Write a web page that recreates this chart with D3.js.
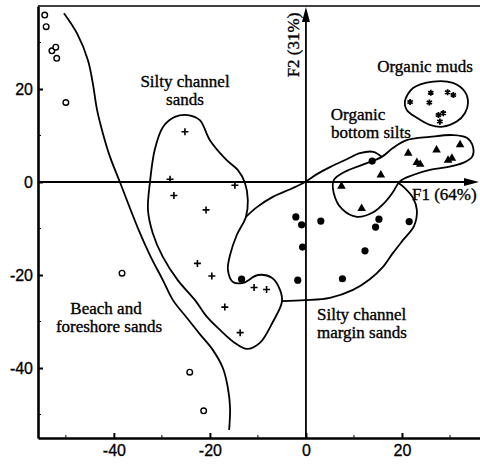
<!DOCTYPE html>
<html>
<head>
<meta charset="utf-8">
<script src="https://cdn.jsdelivr.net/npm/d3@7"></script>
<style>
  body { margin: 0; background: #fff; }
  svg { display: block; }
  .lbl { font-family: "Liberation Serif", "Times New Roman", serif; font-size: 17px; fill: #000;
         stroke: #000; stroke-width: 0.35px; }
  .tick text { font-family: "Liberation Sans", Arial, sans-serif; font-size: 16px; fill: #000;
               stroke: #000; stroke-width: 0.3px; }
</style>
</head>
<body>
<div id="chart"></div>
<script>
// factor scores (F1, F2)
var beachSands = [[-54.4,35.9],[-54.1,33.4],[-52.9,28.2],[-52.1,29.0],[-51.9,26.6],[-50.0,17.1],
                  [-38.3,-19.6],[-24.2,-40.9],[-21.3,-49.2]];
var channelSands = [[-25.2,10.8],[-28.3,0.6],[-27.5,-2.9],[-14.8,-0.7],[-20.8,-6.0],[-22.6,-17.5],
                    [-19.6,-20.2],[-10.8,-22.7],[-8.2,-23.1],[-16.9,-26.9],[-13.7,-32.4]];
var marginSands = [[-2.1,-7.5],[-0.9,-9.2],[3.1,-8.4],[15.2,-8.0],[14.5,-9.7],[21.5,-8.5],
                   [-0.7,-14.0],[12.3,-14.8],[-1.7,-21.1],[7.6,-20.8],[-13.4,-20.9],[13.8,4.5]];
var bottomSilts = [[21.3,6.2],[27.2,6.9],[32.1,8.0],[23.1,4.2],[23.8,3.8],[29.6,4.7],[30.4,5.1],
                   [15.6,1.5],[7.4,-0.9],[11.6,-5.7]];
var organicMuds = [[21.7,17.2],[26.0,19.2],[25.7,17.1],[29.5,19.3],[30.7,18.7],[27.6,14.4],
                   [27.9,13.0],[28.6,14.8]];

// group outlines (data units)
var beachLine = [[-50.4,36.3],[-47.7,32.0],[-45.4,26.2],[-44.4,21.3],[-43.5,15.5],[-42.3,10.5],
                 [-40.8,5.4],[-38.75,0],[-35.0,-9.9],[-32.5,-15.7],[-29.8,-21.1],[-27.7,-25.4],
                 [-24.8,-29.2],[-22.1,-32.7],[-19.4,-36.1],[-17.3,-40.0],[-16.25,-44.3],
                 [-15.8,-48.6],[-16.0,-53.3]];
var channelLine = [[-24.6,14.4],[-22.1,13.3],[-20.0,9.0],[-16.5,4.7],[-14.2,2.6],[-12.7,-0.2],
                   [-12.1,-3.9],[-12.5,-7.5],[-14.4,-11.4],[-15.8,-15.7],[-16.25,-18.9],
                   [-15.2,-21.5],[-13.1,-21.7],[-10.0,-20.0],[-7.1,-20.6],[-5.4,-23.2],
                   [-5.0,-25.8],[-6.9,-30.1],[-9.6,-34.6],[-12.3,-35.9],[-14.8,-34.6],
                   [-17.9,-31.8],[-20.6,-29.0],[-23.1,-25.4],[-26.7,-21.1],[-29.8,-16.1],
                   [-31.9,-11.0],[-32.9,-6.0],[-32.5,-0.2],[-31.5,6.9],[-29.8,11.8],[-27.3,14.0]];
var marginTop = [[-12.5,-7.5],[-10.2,-5.4],[-6.9,-3.2],[-2.7,-1.3],[-0.2,0],[2.3,1.7],[5.0,3.2],
                 [8.5,4.9],[11.25,6.2],[14.0,6.5],[15.8,5.4]];
var marginRest = [[19.0,0],[20.6,-1.3],[22.3,-3.4],[23.1,-6.0],[22.5,-9.5],[20.2,-12.5],
                  [18.1,-15.3],[16.0,-18.3],[13.3,-20.9],[9.8,-23.2],[5.0,-24.9],[-0.2,-25.4],
                  [-5.0,-25.6]];
var siltsLine = [[15.8,5.4],[18.1,7.3],[21.0,9.0],[25.8,9.7],[30.6,10.1],[33.5,9.5],[34.8,7.5],
                 [34.6,5.4],[32.7,4.1],[29.4,3.2],[25.8,2.6],[22.3,1.5],[19.6,0.2],[18.1,-2.2],
                 [16.5,-4.3],[14.0,-6.5],[10.6,-7.5],[7.5,-5.8],[5.8,-2.4],[5.8,0.4],[8.1,2.2],
                 [11.7,3.7]];
var mudsLine = [[20.6,17.3],[22.3,20.2],[26.5,21.6],[30.6,21.3],[33.1,19.4],[33.75,17.0],
                [33.1,14.8],[31.4,13.0],[28.5,11.9],[25.8,12.3],[23.1,13.8],[21.0,15.5]];

var xTicks = [-40, -20, 0, 20];
var yTicks = [-40, -20, 0, 20];
var xMinor = [-50, -30, -10, 10, 30];
var yMinor = [-50, -30, -10, 10, 30];

var width = 480, height = 464;

var svg = d3.select('#chart').append('svg')
    .attr('width', width)
    .attr('height', height);

var x = d3.scaleLinear().domain([-55.8, 36.25]).range([38, 480]);
var y = d3.scaleLinear().domain([-55.05, 37.85]).range([438, 6]);

// frame
svg.append('line').attr('x1', 38).attr('x2', 480).attr('y1', 6).attr('y2', 6)
    .style('stroke', '#000').style('stroke-width', 1.6);

svg.append('g')
    .attr('transform', 'translate(38,0)')
    .call(d3.axisLeft(y).tickValues(yTicks).tickFormat(d => String(d))
        .tickSizeInner(-5).tickSizeOuter(0).tickPadding(5));
svg.append('g')
    .attr('transform', 'translate(0,438)')
    .call(d3.axisBottom(x).tickValues(xTicks).tickFormat(d => String(d))
        .tickSizeInner(-5).tickSizeOuter(0).tickPadding(7));
svg.selectAll('.domain').style('stroke', '#000').style('stroke-width', 2.6);
svg.selectAll('.tick line').style('stroke', '#000').style('stroke-width', 2);

svg.selectAll('.yminor').data(yMinor).enter().append('line')
    .attr('x1', 38).attr('x2', 41).attr('y1', d => y(d)).attr('y2', d => y(d))
    .style('stroke', '#000').style('stroke-width', 1);
svg.selectAll('.xminor').data(xMinor).enter().append('line')
    .attr('y1', 438).attr('y2', 435).attr('x1', d => x(d)).attr('x2', d => x(d))
    .style('stroke', '#000').style('stroke-width', 1);

// factor axes with arrows
svg.append('line').attr('x1', 38).attr('x2', 470).attr('y1', y(0)).attr('y2', y(0))
    .style('stroke', '#000').style('stroke-width', 1.8);
svg.append('line').attr('x1', x(0)).attr('x2', x(0)).attr('y1', 438).attr('y2', 16)
    .style('stroke', '#000').style('stroke-width', 1.8);
svg.append('path')
    .attr('d', 'M' + 479 + ',' + y(0) + 'L' + 464 + ',' + (y(0) - 4) + 'L' + 464 + ',' + (y(0) + 4) + 'Z')
    .style('fill', '#000');
svg.append('path')
    .attr('d', 'M' + x(0) + ',' + 7 + 'L' + (x(0) - 4) + ',' + 22 + 'L' + (x(0) + 4) + ',' + 22 + 'Z')
    .style('fill', '#000');

// outlines
var lineOpen = d3.line().x(d => x(d[0])).y(d => y(d[1])).curve(d3.curveCatmullRom.alpha(0.5));
var lineClosed = d3.line().x(d => x(d[0])).y(d => y(d[1])).curve(d3.curveCatmullRomClosed.alpha(0.5));

[beachLine, marginTop, marginRest].forEach(function(pts) {
    svg.append('path').attr('d', lineOpen(pts))
        .style('fill', 'none').style('stroke', '#000').style('stroke-width', 1.8);
});
[channelLine, siltsLine, mudsLine].forEach(function(pts) {
    svg.append('path').attr('d', lineClosed(pts))
        .style('fill', 'none').style('stroke', '#000').style('stroke-width', 1.8);
});

// points
svg.selectAll('.beach').data(beachSands).enter().append('circle')
    .attr('cx', d => x(d[0])).attr('cy', d => y(d[1])).attr('r', 2.8)
    .style('fill', '#fff').style('stroke', '#000').style('stroke-width', 1.4);

svg.selectAll('.chan').data(channelSands).enter().append('path')
    .attr('transform', d => 'translate(' + x(d[0]) + ',' + y(d[1]) + ')')
    .attr('d', 'M-3.5,0H3.5M0,-3.5V3.5')
    .style('stroke', '#000').style('stroke-width', 1.6);

svg.selectAll('.marg').data(marginSands).enter().append('circle')
    .attr('cx', d => x(d[0])).attr('cy', d => y(d[1])).attr('r', 3.6)
    .style('fill', '#000');

svg.selectAll('.silt').data(bottomSilts).enter().append('path')
    .attr('transform', d => 'translate(' + x(d[0]) + ',' + y(d[1]) + ')')
    .attr('d', d3.symbol(d3.symbolTriangle, 32))
    .style('fill', '#000');

svg.selectAll('.mud').data(organicMuds).enter().append('path')
    .attr('transform', d => 'translate(' + x(d[0]) + ',' + y(d[1]) + ')')
    .attr('d', d3.symbol(d3.symbolAsterisk, 26))
    .style('fill', 'none').style('stroke', '#000').style('stroke-width', 1.8);

// labels
function label(txt, px, py, anchor) {
    svg.append('text').attr('class', 'lbl').attr('x', px).attr('y', py)
        .attr('text-anchor', anchor || 'middle').text(txt);
}
label('Silty channel', 185, 87);
label('sands', 185, 105);
label('Organic muds', 425, 72);
label('Organic', 358, 120);
label('bottom silts', 371, 138);
label('Beach and', 106, 314);
label('foreshore sands', 109, 332);
label('Silty channel', 317, 320, 'start');
label('margin sands', 317, 338, 'start');
label('F1 (64%)', 412, 200, 'start');

svg.append('text').attr('class', 'lbl')
    .attr('transform', 'translate(299,45) rotate(-90)')
    .attr('text-anchor', 'middle').text('F2 (31%)');
</script>
</body>
</html>
